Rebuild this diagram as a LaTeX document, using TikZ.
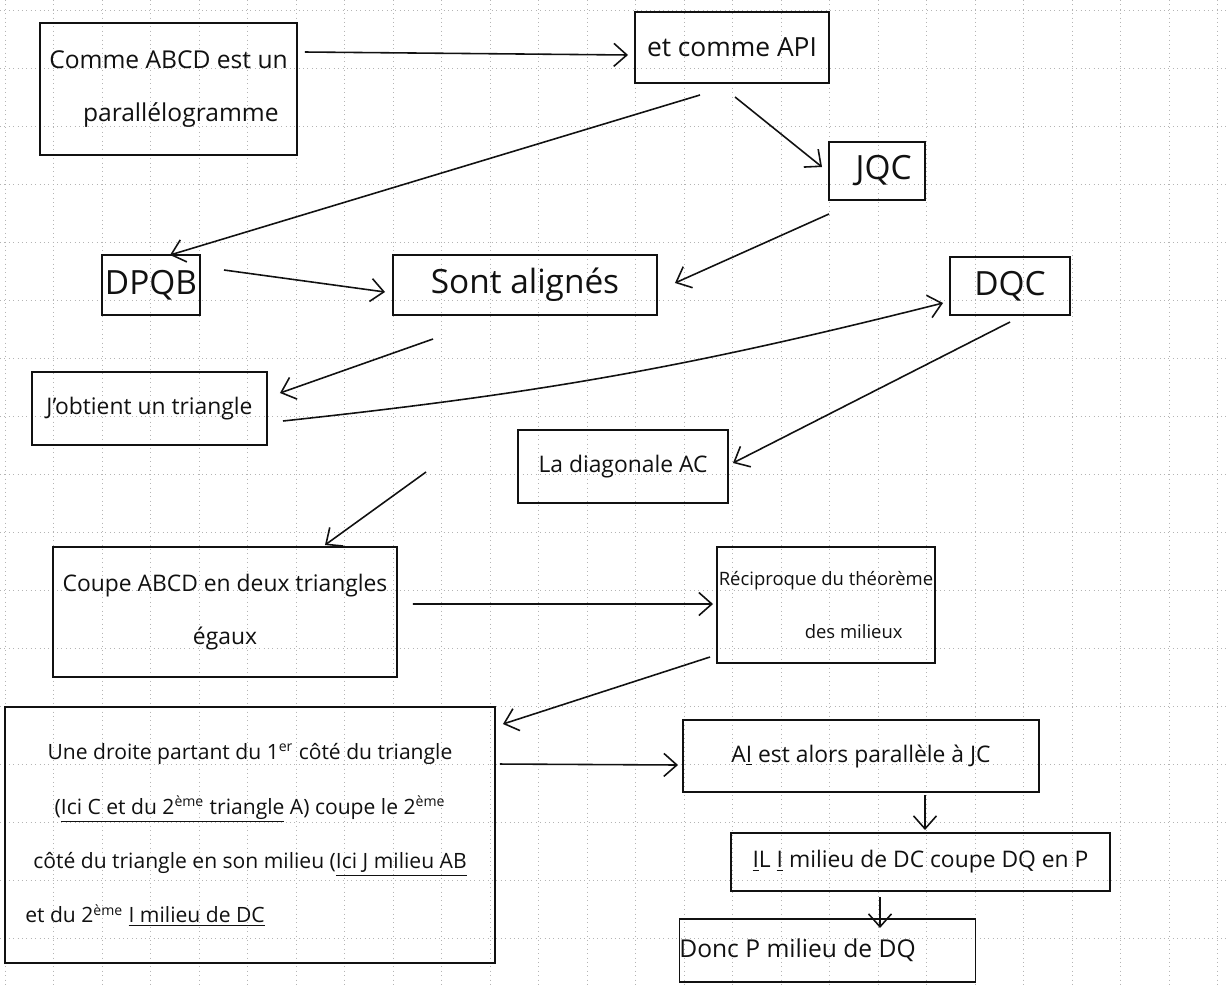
\documentclass[tikz,border=0pt]{standalone}
\usepackage{fontspec}
\setmainfont{Open Sans}
\usetikzlibrary{arrows.meta, positioning}
\definecolor{inkC}{HTML}{111111}
\definecolor{gridC}{HTML}{B4B4B4}
\tikzset{
  bx/.style={rectangle, draw=inkC, line width=0.7pt, inner sep=0pt, outer sep=0pt, align=center, text=inkC, font=\fontsize{13}{18}\selectfont},
  bxThick/.style={bx, line width=1.3pt},
  arw/.style={-{Straight Barb[length=2.6mm, width=4.6mm, line width=0.9pt]}, line width=0.9pt, draw=inkC},
  gridln/.style={dotted, gridC, line width=0.5pt}
}

\begin{document}
\begin{tikzpicture}[x=0.02cm, y=-0.02cm]
  \useasboundingbox[fill=white] (0,0) rectangle (1226,984);
  % -- grid paper --
  \foreach \gx in {5,53.5,...,1222}
    \draw[gridln] (\gx,0) -- (\gx,984);
  \foreach \gy in {10,68,...,984}
    \draw[gridln] (0,\gy) -- (1226,\gy);

  % -- boxes --
  \node[bx, minimum width=5.14cm, minimum height=2.64cm, font=\fontsize{14}{30}\selectfont] (comme) at (168.5,89) {Comme ABCD est un\\ \hspace*{1em}parallélogramme};
  \node[bx, minimum width=3.88cm, minimum height=1.42cm, font=\fontsize{15}{18}\selectfont] (api) at (732,47.5) {et comme API};
  \node[bx, minimum width=1.92cm, minimum height=1.16cm, font=\fontsize{19}{20}\selectfont] (jqc) at (877,171) {\hspace*{0.4em}JQC};
  \node[bxThick, minimum width=1.96cm, minimum height=1.20cm, font=\fontsize{19}{20}\selectfont] (dpqb) at (151,285) {DPQB};
  \node[bx, minimum width=5.28cm, minimum height=1.20cm, font=\fontsize{19}{20}\selectfont] (align) at (525,285) {Sont alignés};
  \node[bx, minimum width=2.40cm, minimum height=1.16cm, font=\fontsize{19}{20}\selectfont] (dqc) at (1010,286) {DQC};
  \node[bx, minimum width=4.70cm, minimum height=1.46cm, font=\fontsize{13}{18}\selectfont] (tri) at (149.5,408.5) {J'obtient un triangle};
  \node[bx, minimum width=4.20cm, minimum height=1.46cm, font=\fontsize{13}{18}\selectfont] (diag) at (623,466.5) {La diagonale AC};
  \node[bx, minimum width=6.88cm, minimum height=2.60cm, font=\fontsize{13}{30}\selectfont] (coupe) at (225,612) {Coupe ABCD en deux triangles\\ égaux};
  \node[bxThick, minimum width=4.36cm, minimum height=2.32cm, font=\fontsize{10.5}{30}\selectfont] (recip) at (826,605) {Réciproque du théorème\\ \hspace*{3em}des milieux};
  \node[bxThick, minimum width=9.80cm, minimum height=5.12cm, font=\fontsize{12}{31}\selectfont] (droite) at (250,835) {Une droite partant du 1\textsuperscript{er} côté du triangle\\ (\underline{Ici C et du 2\textsuperscript{ème} triangle} A) coupe le 2\textsuperscript{ème}\\ côté du triangle en son milieu (\underline{Ici J milieu AB}\\ \hspace*{-4.2cm}et du 2\textsuperscript{ème} \underline{I milieu de DC}};
  \node[bx, minimum width=7.12cm, minimum height=1.44cm, font=\fontsize{13}{18}\selectfont] (ai) at (861,756) {A\underline{I} est alors parallèle à JC};
  \node[bxThick, minimum width=7.58cm, minimum height=1.16cm, font=\fontsize{13}{18}\selectfont] (il) at (920.5,862) {\underline{I}L \underline{I} milieu de DC coupe DQ en P};
  \node[bx, minimum width=5.78cm, minimum height=1.26cm, font=\fontsize{14}{18}\selectfont] (donc) at (827.5,950.5) {Donc P milieu de DQ\hspace*{1.2cm}};

  % -- connectors --
  \draw[arw] ([xshift=0.16cm, yshift=0.74cm]comme.east) -- ([xshift=-0.14cm, yshift=-0.15cm]api.west);
  \draw[arw] ([xshift=-0.64cm, yshift=-0.24cm]api.south) -- ([xshift=0.38cm]dpqb.north);
  \draw[arw] ([xshift=0.06cm, yshift=-0.28cm]api.south) -- ([xshift=-0.14cm, yshift=0.08cm]jqc.west);
  \draw[arw] ([xshift=0.48cm, yshift=0.3cm]dpqb.east) -- ([xshift=-0.16cm, yshift=-0.14cm]align.west);
  \draw[arw] ([yshift=-0.28cm]jqc.south west) -- ([xshift=0.36cm, yshift=0.04cm]align.east);
  \draw[arw] ([xshift=-1.84cm, yshift=-0.48cm]align.south) -- ([xshift=0.26cm, yshift=0.31cm]tri.east);
  \draw[arw] ([xshift=0.32cm, yshift=-0.25cm]tri.east) to[bend right=4] ([xshift=-0.14cm, yshift=-0.34cm]dqc.west);
  \draw[arw] ([yshift=-0.14cm]dqc.south) -- ([xshift=0.1cm, yshift=0.07cm]diag.east);
  \draw[arw] ([xshift=-1.84cm, yshift=-0.11cm]diag.west) -- ([xshift=2cm, yshift=0.04cm]coupe.north);
  \draw[arw] ([xshift=0.32cm, yshift=0.16cm]coupe.east) -- ([xshift=-0.08cm, yshift=0.02cm]recip.west);
  \draw[arw] ([xshift=-0.14cm, yshift=0.12cm]recip.south west) -- ([xshift=0.16cm, yshift=-0.34cm]droite.north east);
  \draw[arw] ([xshift=0.1cm, yshift=1.42cm]droite.east) -- ([xshift=-0.1cm, yshift=-0.18cm]ai.west);
  \draw[arw] ([xshift=1.28cm, yshift=-0.06cm]ai.south) -- ([xshift=0.09cm, yshift=0.06cm]il.north);
  \draw[arw] ([xshift=-0.81cm, yshift=-0.12cm]il.south) -- ([xshift=1.05cm, yshift=-0.18cm]donc.north);
\end{tikzpicture}
\end{document}
